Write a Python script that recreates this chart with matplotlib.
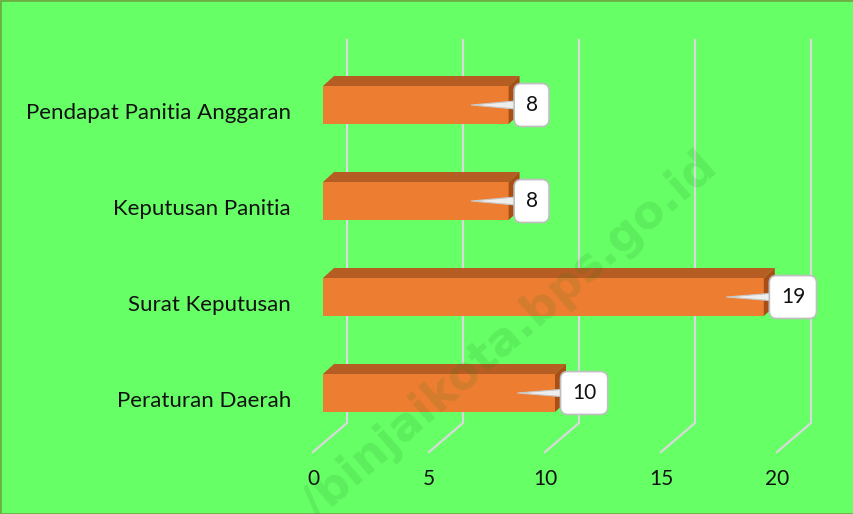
import numpy as np
import matplotlib.pyplot as plt
from matplotlib.patches import Polygon

categories = ['Peraturan Daerah', 'Surat Keputusan', 'Keputusan Panitia', 'Pendapat Panitia Anggaran']
values = [10, 19, 8, 8]
xticks = [0, 5, 10, 15, 20]

W, H = 854, 514
fig = plt.figure(figsize=(W / 100, H / 100), dpi=100)
fig.patch.set_facecolor('#66FF66')
ax = fig.add_axes([0, 0, 1, 1])
ax.set_facecolor('none')
ax.axis('off')

# pixel anchors: value 0 -> x=323, 23.2 px per unit; category 0 -> y=393, 96 px per category
sx, x0px = 23.2, 323
sy, y0px = 96.0, 393
ax.set_xlim((0 - x0px) / sx, (W - x0px) / sx)
ax.set_ylim((y0px - H) / sy, (y0px - 0) / sy)

def px_x(p):
    return p / sx

def px_y(p):
    return p / sy

# back wall grid lines with floor diagonal
back_dx = px_x(24)
top_y = (y0px - 40) / sy
bot_y = (y0px - 423) / sy
for v in xticks:
    xb = v + back_dx
    ax.plot([xb, xb, xb - px_x(34)], [top_y, bot_y, bot_y - px_y(29)],
            color='#D9D9D9', lw=1.6, solid_joinstyle='miter', zorder=1)
    ax.text(v - px_x(10), (y0px - 479) / sy, str(v), ha='center', va='center',
            fontsize=15, family='Lato', color='#111111')

# bars with pseudo-3D faces
bh = px_y(38)
ddx, ddy = px_x(11), px_y(10)
for i, (cat, v) in enumerate(zip(categories, values)):
    yb, yt = i - bh / 2, i + bh / 2
    ax.add_patch(Polygon([(0, yb), (v, yb), (v, yt), (0, yt)], closed=True,
                         fc='#ED7D31', ec='none', zorder=3))
    ax.add_patch(Polygon([(0, yt), (ddx, yt + ddy), (v + ddx, yt + ddy), (v, yt)], closed=True,
                         fc='#B55D22', ec='none', zorder=3))
    ax.add_patch(Polygon([(v, yb), (v, yt), (v + ddx, yt + ddy), (v + ddx, yb + ddy)], closed=True,
                         fc='#A84F18', ec='none', zorder=3))
    ax.text(px_x(291 - x0px), i - px_y(8), cat, ha='right', va='center',
            fontsize=16, family='Lato', color='#111111')
    ax.annotate(str(v), xy=(v - px_x(40), i), xytext=(v + px_x(17), i),
                ha='left', va='center', fontsize=15, family='Lato', color='#111111',
                bbox=dict(boxstyle='round,pad=0.55,rounding_size=0.35', fc='white', ec='#BFBFBF', lw=1.2),
                arrowprops=dict(arrowstyle='wedge,tail_width=0.5,shrink_factor=0.5',
                                fc='#EEEEEE', ec='#C8C8C8', lw=0.8, patchA=None),
                zorder=5)

# watermark
fig.text(0.598, 0.345, '/binjaikota.bps.go.id', rotation=41, ha='center', va='center',
         fontsize=33, fontweight='bold', family='DejaVu Sans', color='#1E7A1E', alpha=0.13)

# outer border
fig.add_artist(plt.Rectangle((0, 0), 1, 1, transform=fig.transFigure, fill=False,
                             ec='#6BAF45', lw=2))

fig.savefig('out.png', dpi=100, facecolor=fig.get_facecolor())
